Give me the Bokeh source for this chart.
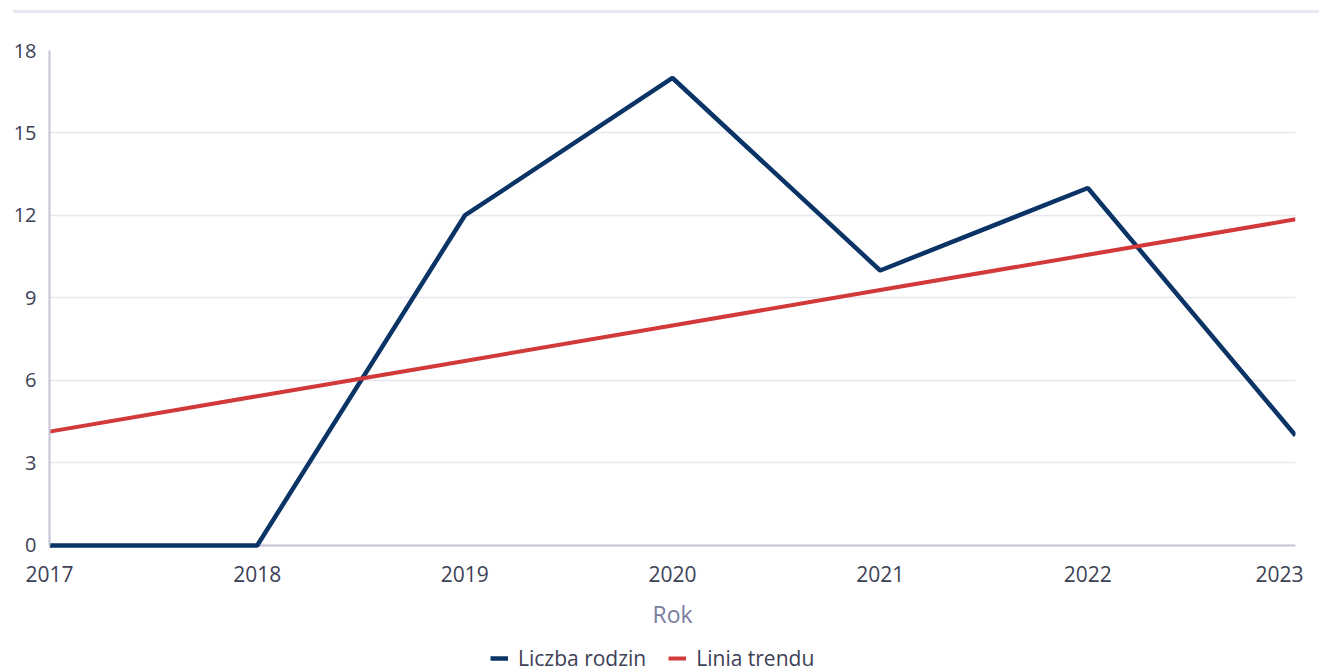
from bokeh.plotting import figure
from bokeh.models import Range1d, FixedTicker, Legend, LegendItem, Div, Column, Span
from bokeh.embed import file_html
from bokeh.resources import INLINE

years = [2017, 2018, 2019, 2020, 2021, 2022, 2023]
families = [0, 0, 12, 17, 10, 13, 4]
trend = [4.14, 5.43, 6.71, 8.00, 9.29, 10.57, 11.86]
y_ticks = [0, 3, 6, 9, 12, 15, 18]
x_label = "Rok"
series_names = ["Liczba rodzin", "Linia trendu"]

FONT = "Open Sans"
TEXT = "#3d4156"
NAVY = "#0b3466"
RED = "#d2393a"
AXIS = "#c2c4d6"

top = Div(text='<div style="margin-left:13px;margin-top:10px;width:1306px;'
               'height:3px;background:#e8e8f0"></div>',
          width=1319, height=16, margin=0)

p = figure(width=1303, height=619, output_backend="svg", toolbar_location=None,
           x_range=Range1d(years[0], years[-1]), y_range=Range1d(-0.11, 18),
           min_border_left=49, min_border_right=8, min_border_top=34,
           min_border_bottom=87)
p.outline_line_color = None
p.background_fill_color = "white"
p.border_fill_color = "white"

p.xgrid.grid_line_color = None
p.ygrid.grid_line_color = "#e7e7ef"
p.ygrid.grid_line_width = 1.5
p.add_layout(Span(location=0, dimension="width", line_color=AXIS,
                  line_width=2, level="underlay"))

r1 = p.line(years, families, line_color=NAVY, line_width=4.5)
r2 = p.line(years, trend, line_color=RED, line_width=4)

p.yaxis.ticker = FixedTicker(ticks=y_ticks)
p.xaxis.ticker = FixedTicker(ticks=years)
p.yaxis.bounds = (0, 18)
for ax in (p.xaxis[0], p.yaxis[0]):
    ax.axis_line_color = AXIS
    ax.axis_line_width = 2
    ax.major_tick_line_color = None
    ax.minor_tick_line_color = None
    ax.major_tick_out = 0
    ax.major_tick_in = 0
    ax.minor_tick_out = 0
    ax.major_label_text_font = FONT
    ax.major_label_text_color = TEXT
p.xaxis.axis_line_color = None
p.yaxis.major_label_text_font_size = "20px"
p.xaxis.major_label_text_font_size = "21px"
p.yaxis.major_label_standoff = 13
p.xaxis.major_label_standoff = 17
p.xaxis.axis_label = x_label
p.xaxis.axis_label_text_font = FONT
p.xaxis.axis_label_text_font_style = "normal"
p.xaxis.axis_label_text_font_size = "23px"
p.xaxis.axis_label_text_color = "#7b7d9f"
p.xaxis.axis_label_standoff = 13

# separate strip carrying the legend below the chart
lg = figure(width=1303, height=37, output_backend="svg", toolbar_location=None,
            x_range=Range1d(0, 1), y_range=Range1d(0, 1),
            min_border=0, x_axis_type=None, y_axis_type=None)
lg.outline_line_color = None
lg.xgrid.grid_line_color = None
lg.ygrid.grid_line_color = None
l1 = lg.line(years, families, line_color=NAVY, line_width=4.5)
l2 = lg.line(years, trend, line_color=RED, line_width=4)

legend = Legend(items=[LegendItem(label=series_names[0], renderers=[l1]),
                       LegendItem(label=series_names[1], renderers=[l2])],
                orientation="horizontal", location=(441, 0),
                padding=0, margin=0, spacing=22,
                glyph_width=18, glyph_height=20, label_standoff=10,
                label_text_font=FONT, label_text_font_size="21px",
                label_text_color=TEXT, border_line_alpha=0,
                background_fill_alpha=0)
lg.add_layout(legend, "center")

layout = Column(top, p, lg, spacing=0)
open("out.html", "w").write(file_html(layout, INLINE))
